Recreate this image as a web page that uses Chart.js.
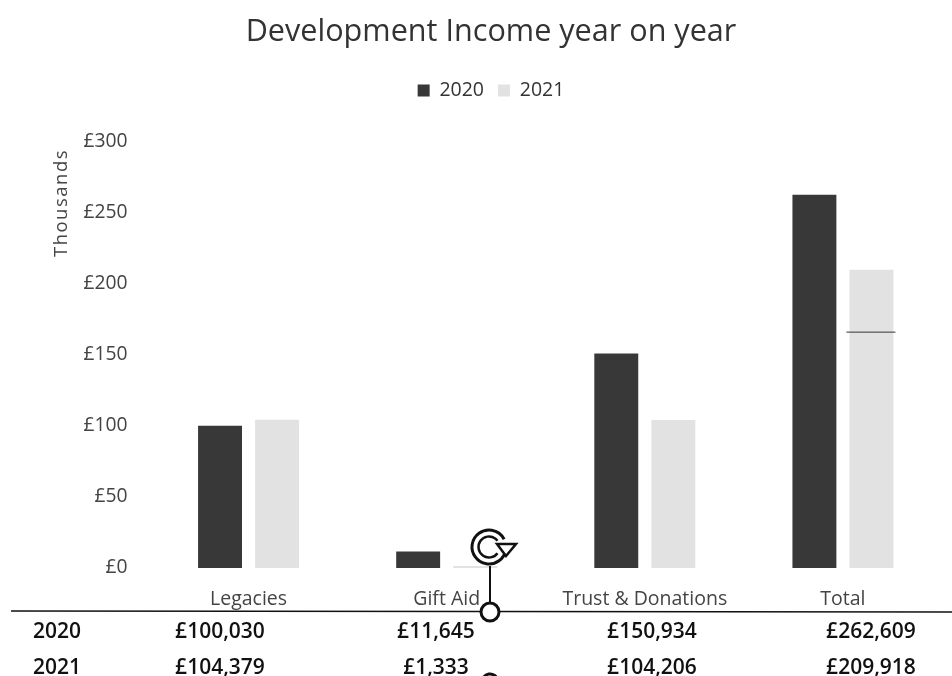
<!DOCTYPE html>
<html>
<head>
<meta charset="utf-8">
<title>Development Income year on year</title>
<script src="https://cdn.jsdelivr.net/npm/chart.js@4"></script>
<style>
  html, body { margin: 0; padding: 0; background: #fff; }
  #wrap { position: relative; width: 952px; height: 676px; }
</style>
</head>
<body>
<div id="wrap"><canvas id="incomeChart" width="952" height="676"></canvas></div>
<script>
const categories = ['Legacies', 'Gift Aid', 'Trust & Donations', 'Total'];
const income2020 = [100030, 11645, 150934, 262609];
const income2021 = [104379, 1333, 104206, 209918];
const yTicks = [0, 50, 100, 150, 200, 250, 300];

const gbp = (n) => '£' + n.toLocaleString('en-GB');
const thousands = (list) => list.map((n) => n / 1000);

// Table under the chart, one row per year
const tableRows = [
  { label: '2020', values: income2020, y: 632 },
  { label: '2021', values: income2021, y: 668 }
];
const tableColumns = [220, 436, 652, 871];

// Extra room between the legend and the plot
const legendGap = {
  id: 'legendGap',
  beforeInit(chart) {
    const fit = chart.legend.fit;
    chart.legend.fit = function () {
      fit.call(this);
      this.height += 31.5;
    };
  }
};

const tableAndHandle = {
  id: 'tableAndHandle',
  afterDraw(chart) {
    const { ctx, scales } = chart;
    ctx.save();

    // "Thousands" display-unit label beside the axis
    ctx.save();
    ctx.translate(62, 203);
    ctx.rotate(-Math.PI / 2);
    ctx.font = '18.5px "Open Sans"';
    ctx.letterSpacing = '1.5px';
    ctx.fillStyle = '#444';
    ctx.textAlign = 'center';
    ctx.textBaseline = 'middle';
    ctx.fillText('Thousands', 0, 0);
    ctx.restore();

    // stray rule across the 2021 Total bar
    const totalBar = chart.getDatasetMeta(1).data[3];
    const ruleY = scales.y.getPixelForValue(166);
    ctx.strokeStyle = '#333';
    ctx.lineWidth = 1;
    ctx.beginPath();
    ctx.moveTo(totalBar.x - 25, ruleY);
    ctx.lineTo(totalBar.x + 24, ruleY);
    ctx.stroke();

    // header rule of the table
    ctx.strokeStyle = '#111';
    ctx.lineWidth = 1.5;
    ctx.beginPath();
    ctx.moveTo(11, 611);
    ctx.lineTo(952, 612);
    ctx.stroke();

    ctx.font = '600 21px "Open Sans"';
    ctx.fillStyle = '#111';
    ctx.textBaseline = 'middle';
    tableRows.forEach((row) => {
      ctx.textAlign = 'left';
      ctx.fillText(row.label, 33, row.y);
      ctx.textAlign = 'center';
      row.values.forEach((v, i) => ctx.fillText(gbp(v), tableColumns[i], row.y));
    });

    // rotate handle of the selected object
    ctx.strokeStyle = '#111';
    ctx.lineWidth = 2;
    ctx.beginPath();
    ctx.moveTo(490, 566);
    ctx.lineTo(490, 603);
    ctx.stroke();

    ctx.lineWidth = 3;
    ctx.fillStyle = '#fff';
    ctx.beginPath();
    ctx.arc(490, 612, 9, 0, Math.PI * 2);
    ctx.fill();
    ctx.stroke();

    ctx.lineWidth = 3;
    ctx.beginPath();
    ctx.arc(489, 547, 17, Math.PI * 0.05, Math.PI * 1.85, false);
    ctx.stroke();
    ctx.lineWidth = 2.5;
    ctx.beginPath();
    ctx.arc(489, 547, 10.5, Math.PI * 0.2, Math.PI * 1.8, false);
    ctx.stroke();

    // arrow head closing the ring
    ctx.lineWidth = 2.5;
    ctx.fillStyle = '#fff';
    ctx.beginPath();
    ctx.moveTo(497, 544);
    ctx.lineTo(516, 544);
    ctx.lineTo(506, 556);
    ctx.closePath();
    ctx.fill();
    ctx.stroke();

    // top of the next handle, cut by the page edge
    ctx.lineWidth = 3;
    ctx.beginPath();
    ctx.arc(490, 682, 8, Math.PI * 1.2, Math.PI * 1.8, false);
    ctx.stroke();

    ctx.restore();
  }
};

new Chart(document.getElementById('incomeChart'), {
  type: 'bar',
  plugins: [legendGap, tableAndHandle],
  data: {
    labels: categories,
    datasets: [
      {
        label: '2020',
        data: thousands(income2020),
        backgroundColor: '#383838',
        categoryPercentage: 0.576,
        barPercentage: 0.77
      },
      {
        label: '2021',
        data: thousands(income2021),
        backgroundColor: '#e2e2e2',
        categoryPercentage: 0.576,
        barPercentage: 0.77
      }
    ]
  },
  options: {
    responsive: false,
    animation: false,
    layout: { padding: { left: 40, right: 10, top: 0, bottom: 0 } },
    plugins: {
      tooltip: { enabled: false },
      title: {
        display: true,
        text: 'Development Income year on year',
        color: '#333',
        font: { family: '"Open Sans"', size: 30.6, weight: 'normal' },
        padding: { top: 14, bottom: 16 }
      },
      legend: {
        position: 'top',
        labels: {
          color: '#333',
          boxWidth: 12,
          boxHeight: 12,
          padding: 14,
          font: { family: '"Open Sans"', size: 19.5 }
        }
      }
    },
    scales: {
      x: {
        grid: { display: false },
        border: { display: false },
        afterFit(scale) { scale.height = 108; },
        ticks: {
          color: '#444',
          padding: 12,
          maxRotation: 0,
          autoSkip: false,
          font: { family: '"Open Sans"', size: 19.5 }
        }
      },
      y: {
        min: 0,
        max: 300,
        grid: { display: false },
        border: { display: false },
        afterBuildTicks(scale) { scale.ticks = yTicks.map((value) => ({ value })); },
        afterFit(scale) { scale.width = 109.5; },
        ticks: {
          color: '#444',
          padding: 14,
          font: { family: '"Open Sans"', size: 19.3 },
          callback: (value) => '£' + value
        }
      }
    }
  }
});
</script>
</body>
</html>
